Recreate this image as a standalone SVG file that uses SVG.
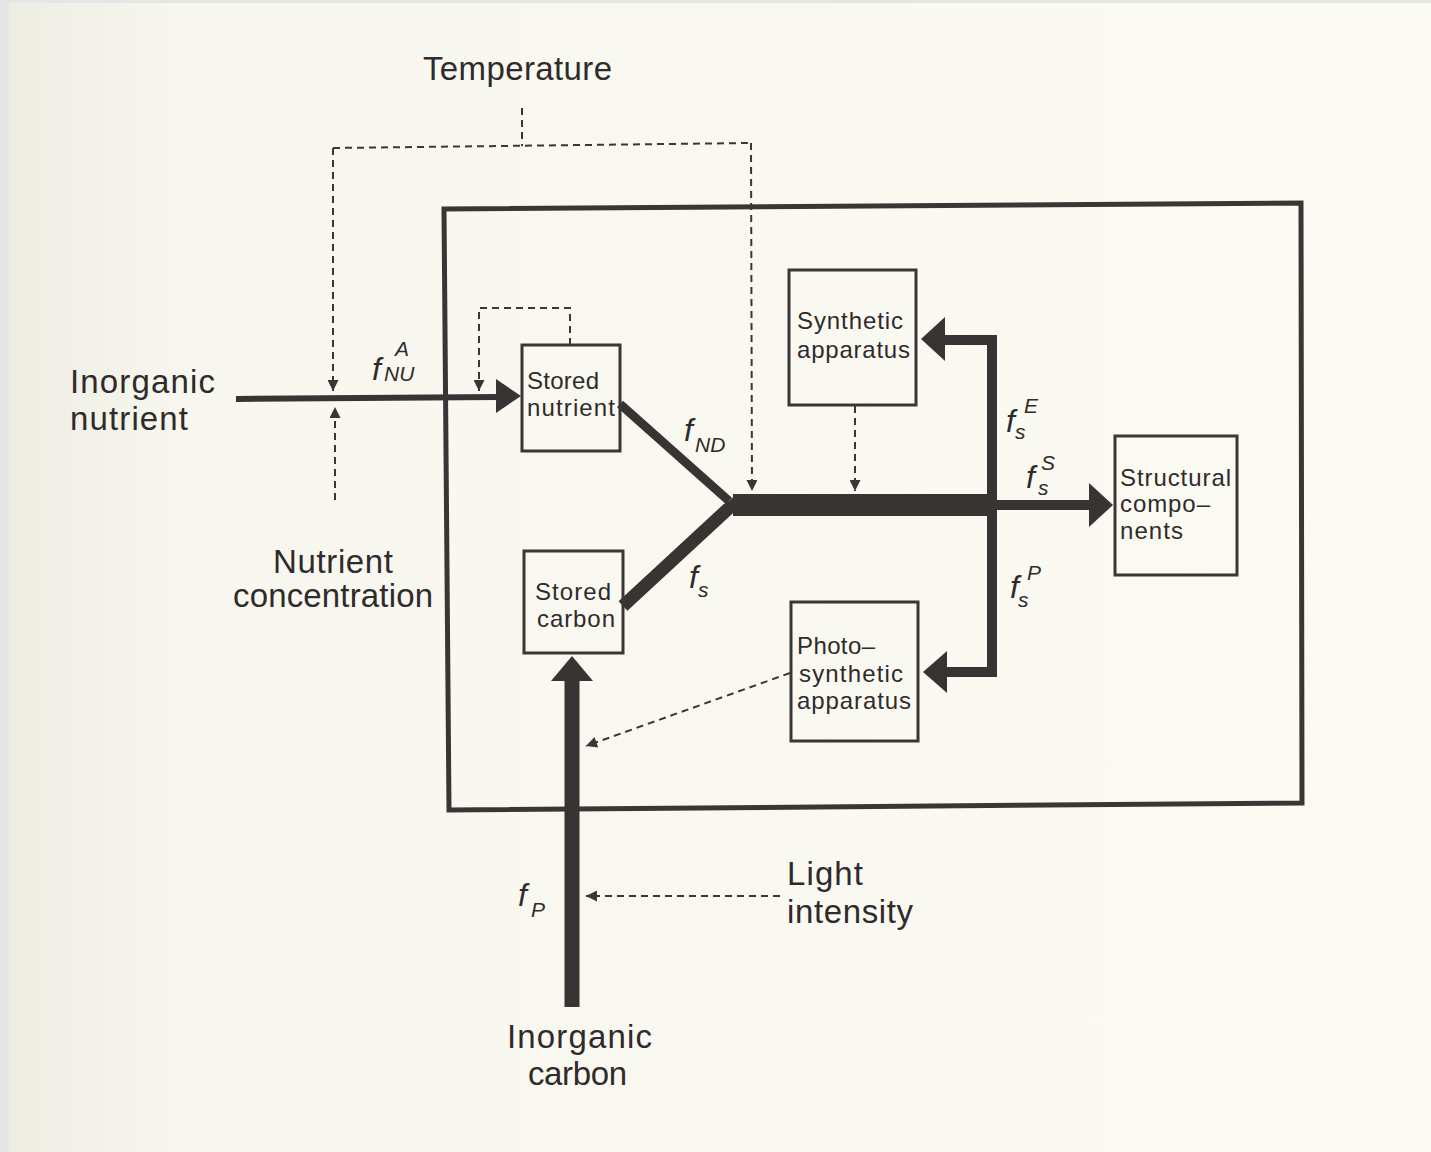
<svg xmlns="http://www.w3.org/2000/svg" width="1431" height="1152" viewBox="0 0 1431 1152">
<defs>
<linearGradient id="paper" x1="0" y1="0" x2="1" y2="0">
<stop offset="0" stop-color="#eeede4"/>
<stop offset="0.12" stop-color="#f8f7ef"/>
<stop offset="1" stop-color="#fbfaf3"/>
</linearGradient>
<marker id="dh" viewBox="0 0 10 10" refX="10" refY="5" markerWidth="13" markerHeight="11" markerUnits="userSpaceOnUse" orient="auto">
<path d="M0,0 L10,5 L0,10 Z" fill="#3a3636"/>
</marker>
<style>
.box{fill:none;stroke:#3a3636;stroke-width:3}
.lbl{font-family:"Liberation Sans",Arial,sans-serif;fill:#2f2b2b}
.big{font-size:33px}
.in{font-size:24px}
.m{font-family:"Liberation Sans",Arial,sans-serif;font-style:italic;fill:#2f2b2b}
.mf{font-size:32px}
.ms{font-size:21px}
.dash{fill:none;stroke:#3a3636;stroke-width:2;stroke-dasharray:7 5}
.thick{fill:none;stroke:#383434;stroke-linejoin:miter;stroke-linecap:butt}
.head{fill:#383434}
</style>
</defs>
<rect width="1431" height="1152" fill="#e6e6e6"/>
<rect x="9" y="3" width="1422" height="1149" fill="url(#paper)"/>

<g id="cell-boundary">
<polygon points="444,209 1301,203 1302,803 449,810" fill="none" stroke="#3a3636" stroke-width="5"/>
</g>

<g id="connectors">
<path class="dash" d="M522,108 L522,146"/>
<path class="dash" d="M333,148 L750,143"/>
<path class="dash" d="M333,148 L333,391" marker-end="url(#dh)"/>
<path class="dash" d="M751,143 L752,491" marker-end="url(#dh)"/>
<path class="dash" d="M335,500 L335,407" marker-end="url(#dh)"/>
<path class="dash" d="M570,345 L570,308 L479,308 L479,391" marker-end="url(#dh)"/>
<path class="dash" d="M855,406 L855,491" marker-end="url(#dh)"/>
<path class="dash" d="M790,673 L586,746" marker-end="url(#dh)"/>
<path class="dash" d="M780,896 L586,896" marker-end="url(#dh)"/>

<path class="thick" stroke-width="6" d="M236,399 L498,397"/>
<polygon class="head" points="521,396 496,379 496,413"/>

<path class="thick" stroke-width="9" d="M620,404 L729,501"/>
<path class="thick" stroke-width="13" d="M623,606 L729,508"/>
<polygon class="head" points="724,505 737,494 737,516"/>
<rect x="733" y="494" width="259" height="22" fill="#383434"/>

<path class="thick" stroke-width="10" d="M944,340 L992,340 L992,672 L946,672"/>
<polygon class="head" points="921,339 945,317 945,361"/>
<polygon class="head" points="923,672 947,651 947,693"/>
<path class="thick" stroke-width="10" d="M990,505 L1092,505"/>
<polygon class="head" points="1113,505 1089,483 1089,527"/>

<path class="thick" stroke-width="15" d="M572,1007 L572,678"/>
<polygon class="head" points="572,656 551,681 593,681"/>
</g>

<g id="temperature">
<text class="lbl big" x="423" y="80" textLength="189">Temperature</text>
</g>
<g id="inorganic-nutrient">
<text class="lbl big" x="70" y="393" textLength="145">Inorganic</text>
<text class="lbl big" x="70" y="430" textLength="118">nutrient</text>
</g>
<g id="nutrient-concentration">
<text class="lbl big" x="273" y="573" textLength="120">Nutrient</text>
<text class="lbl big" x="233" y="607" textLength="200">concentration</text>
</g>
<g id="stored-nutrient">
<rect class="box" x="522" y="345" width="98" height="106"/>
<text class="lbl in" x="527" y="389" textLength="72">Stored</text>
<text class="lbl in" x="527" y="416" textLength="88">nutrient</text>
</g>
<g id="stored-carbon">
<rect class="box" x="524" y="551" width="99" height="102"/>
<text class="lbl in" x="535" y="600" textLength="76">Stored</text>
<text class="lbl in" x="537" y="627" textLength="78">carbon</text>
</g>
<g id="synthetic-apparatus">
<rect class="box" x="789" y="270" width="127" height="135"/>
<text class="lbl in" x="797" y="329" textLength="106">Synthetic</text>
<text class="lbl in" x="797" y="358" textLength="113">apparatus</text>
</g>
<g id="photosynthetic-apparatus">
<rect class="box" x="791" y="602" width="127" height="139"/>
<text class="lbl in" x="797" y="654" textLength="78">Photo–</text>
<text class="lbl in" x="799" y="682" textLength="104">synthetic</text>
<text class="lbl in" x="797" y="709" textLength="114">apparatus</text>
</g>
<g id="structural-components">
<rect class="box" x="1115" y="436" width="122" height="139"/>
<text class="lbl in" x="1120" y="486" textLength="111">Structural</text>
<text class="lbl in" x="1120" y="512" textLength="90">compo–</text>
<text class="lbl in" x="1120" y="539" textLength="63">nents</text>
</g>
<g id="light-intensity">
<text class="lbl big" x="787" y="885" textLength="76">Light</text>
<text class="lbl big" x="787" y="923" textLength="126">intensity</text>
</g>
<g id="inorganic-carbon">
<text class="lbl big" x="507" y="1048" textLength="145">Inorganic</text>
<text class="lbl big" x="528" y="1085" textLength="99">carbon</text>
</g>

<g id="flux-labels">
<text class="m mf" x="372" y="380">f</text>
<text class="m ms" x="395" y="356">A</text>
<text class="m ms" x="384" y="381">NU</text>

<text class="m mf" x="684" y="441">f</text>
<text class="m ms" x="695" y="452">ND</text>

<text class="m mf" x="689" y="588">f</text>
<text class="m ms" x="698" y="597">s</text>

<text class="m mf" x="1006" y="432">f</text>
<text class="m ms" x="1024" y="413">E</text>
<text class="m ms" x="1015" y="439">s</text>

<text class="m mf" x="1026" y="488">f</text>
<text class="m ms" x="1041" y="470">S</text>
<text class="m ms" x="1038" y="495">s</text>

<text class="m mf" x="1010" y="598">f</text>
<text class="m ms" x="1027" y="580">P</text>
<text class="m ms" x="1018" y="607">s</text>

<text class="m mf" x="518" y="906">f</text>
<text class="m ms" x="531" y="917">P</text>
</g>
</svg>
